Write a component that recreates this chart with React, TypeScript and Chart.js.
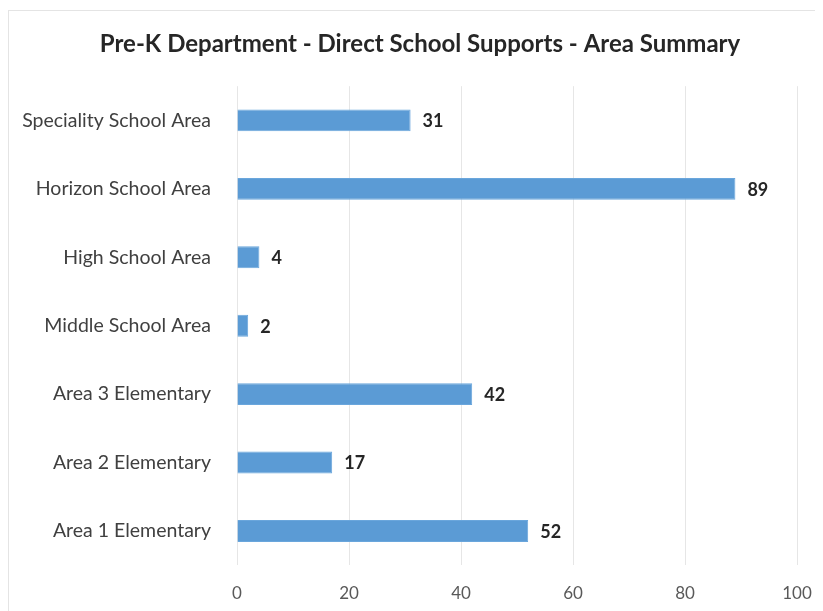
import React, { useEffect, useRef } from "react";
import { Chart, registerables } from "chart.js";

Chart.register(...registerables);

const titleText = "Pre-K Department - Direct School Supports - Area Summary";
const categories = [
  "Speciality School Area",
  "Horizon School Area",
  "High School Area",
  "Middle School Area",
  "Area 3 Elementary",
  "Area 2 Elementary",
  "Area 1 Elementary",
];
const values = [31, 89, 4, 2, 42, 17, 52];
const xMin = 0;
const xMax = 100;
const xStep = 20;

const FONT = "Lato, 'Open Sans', 'DejaVu Sans', sans-serif";

const dataLabelPlugin = {
  id: "dataLabels",
  afterDatasetsDraw(chart: any) {
    const ctx = chart.ctx;
    const meta = chart.getDatasetMeta(0);
    ctx.save();
    ctx.font = `bold 18px ${FONT}`;
    ctx.fillStyle = "#262626";
    ctx.textAlign = "left";
    ctx.textBaseline = "middle";
    meta.data.forEach((bar: any, i: number) => {
      ctx.fillText(String(values[i]), bar.x + 12, bar.y + 1);
    });
    ctx.restore();
  },
};

export default function App() {
  const ref = useRef<HTMLCanvasElement | null>(null);
  useEffect(() => {
    if (!ref.current) return;
    const chart = new Chart(ref.current, {
      type: "bar",
      data: {
        labels: categories,
        datasets: [
          {
            data: values,
            backgroundColor: "#5b9bd5",
            borderColor: "#6aa6dc",
            borderWidth: 1,
            categoryPercentage: 1,
            barPercentage: 0.32,
          },
        ],
      },
      options: {
        indexAxis: "y",
        animation: false,
        responsive: false,
        layout: { padding: { left: 9, right: 0, top: 0, bottom: 8 } },
        plugins: {
          legend: { display: false },
          tooltip: { enabled: false },
          title: {
            display: true,
            text: titleText,
            color: "#262626",
            font: { family: FONT, size: 24, weight: "bold", lineHeight: 1.2 },
            padding: { top: 22, bottom: 27.4 },
          },
        },
        scales: {
          x: {
            min: xMin,
            max: xMax,
            ticks: {
              stepSize: xStep,
              color: "#595959",
              font: { family: FONT, size: 17, lineHeight: 1.2 },
              padding: 18.4,
            },
            grid: { color: "#e6e6e6", drawTicks: false, lineWidth: 1 },
            border: { display: false },
            afterFit(axis: any) {
              axis.paddingLeft = 0;
              axis.paddingRight = 26;
              axis.paddingTop = 0;
              axis.paddingBottom = 0;
              axis.height = 37.8;
            },
          },
          y: {
            ticks: {
              color: "#404040",
              font: { family: FONT, size: 19.5 },
              padding: 26,
            },
            grid: { display: false, drawTicks: false },
            border: { display: false },
            afterFit(axis: any) {
              axis.width = 220;
              axis.paddingTop = 0;
              axis.paddingBottom = 0;
              axis.paddingLeft = 0;
              axis.paddingRight = 0;
            },
          },
        },
      },
      plugins: [dataLabelPlugin],
    });
    return () => chart.destroy();
  }, []);

  return (
    <div style={{ position: "relative", width: 815, height: 603 }}>
      <div
        style={{
          position: "absolute",
          top: -7,
          left: 672,
          width: 160,
          height: 2,
          background: "#0070c0",
        }}
      />
      <div
        style={{
          position: "absolute",
          left: 0,
          top: 2,
          width: 830,
          height: 620,
          border: "1px solid #e4e4e4",
          boxSizing: "border-box",
        }}
      />
      <canvas
        ref={ref}
        width={815}
        height={603}
        style={{ position: "absolute", left: 0, top: 0, display: "block", width: 815, height: 603 }}
      />
    </div>
  );
}
